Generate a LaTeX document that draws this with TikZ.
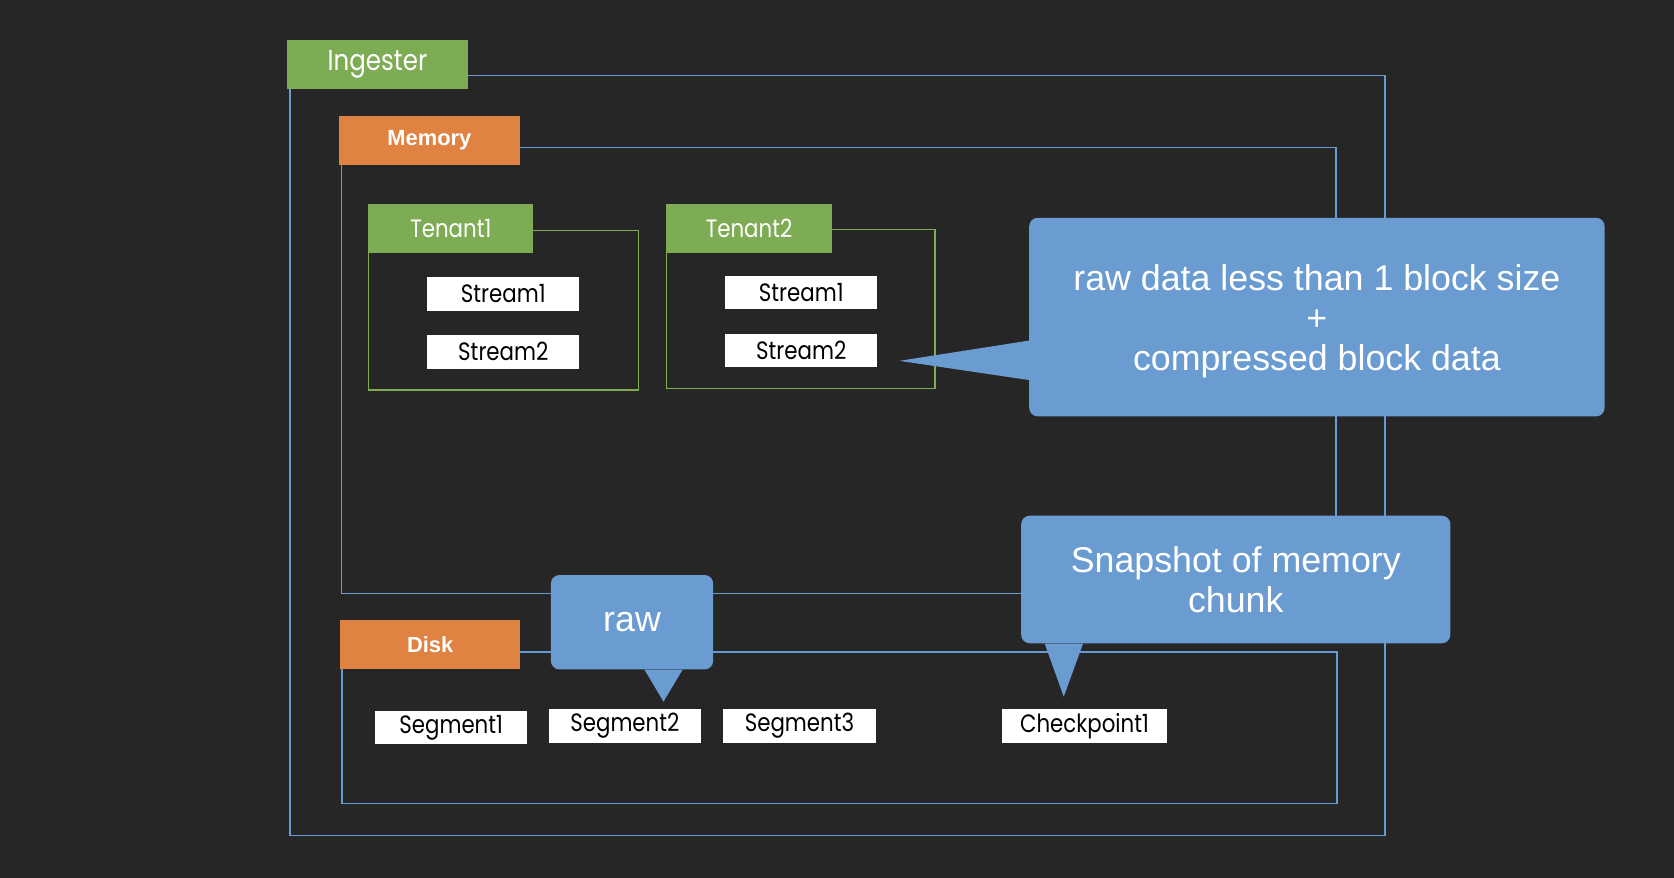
\documentclass[tikz,border=0pt]{standalone}
\usepackage{fontspec}
\setmainfont{Liberation Sans}
\newfontfamily\labelfont[FakeStretch=0.85]{Poppins}
\usepackage{tikz}
\usetikzlibrary{calc}

\begin{document}
\begin{tikzpicture}[x=1pt,y=-1pt,
    tag/.style={fill=custgreen, text=white, inner sep=0, minimum height=45.5pt, font=\labelfont\fontsize{23.5}{23.5}\selectfont},
    boldtag/.style={fill=custorange, text=white, inner sep=0, minimum width=169pt, minimum height=45.5pt, font=\fontsize{20.5}{20.5}\selectfont\bfseries},
    item/.style={fill=white, text=black, inner sep=0, minimum width=142.6pt, minimum height=31.4pt, font=\labelfont\fontsize{23.5}{23.5}\selectfont},
    frame/.style={draw=custblue, line width=1.4pt},
    tenantframe/.style={draw=custgreen, line width=1.4pt},
    note/.style={fill=noteblue, text=white, rounded corners=8pt, inner sep=0, align=center, font=\fontsize{33.5}{37.5}\selectfont}]
    \definecolor{custbg}{RGB}{38, 38, 38}
    \definecolor{custgreen}{RGB}{126, 172, 85}
    \definecolor{custorange}{RGB}{224, 131, 66}
    \definecolor{custblue}{RGB}{104, 155, 212}
    \definecolor{noteblue}{RGB}{106, 155, 209}
    \fill [custbg] (0,0) rectangle (1568,822);
    % containers
    \draw [frame] (271.7,70.9) rectangle (1297.5,782.8);
    \draw [frame] (319.8,138.3) rectangle (1251.2,555.8);
    \draw [frame] (320.3,610.7) rectangle (1252.4,752.8);
    \draw [tenantframe] (345.0,216.1) rectangle (597.9,365.3);
    \draw [tenantframe] (624.5,214.8) rectangle (876.0,364.0);
    % labels
    \node [tag, minimum width=169.4pt, font=\labelfont\fontsize{27}{27}\selectfont] (ingester) at (353.5,60.3) {Ingester};
    \node [boldtag] (memory) at (402.2,131.5) {Memory};
    \node [boldtag] (disk) at (402.9,603.7) {Disk};
    \node [tag, minimum width=154.7pt] (tenantA) at (422.3,213.9) {Tenant1};
    \node [tag, minimum width=154.7pt] (tenantB) at (701.6,213.9) {Tenant2};
    % streams
    \node [item] (streamAA) at (471.4,275.2) {Stream1};
    \node [item] (streamAB) at (471.4,329.5) {Stream2};
    \node [item] (streamBA) at (750.5,274.1) {Stream1};
    \node [item] (streamBB) at (750.5,328.5) {Stream2};
    % disk content
    \node [item] (segA) at (422.6,681.6) {Segment1};
    \node [item] (segB) at (585.3,679.9) {Segment2};
    \node [item] (segC) at (748.8,679.9) {Segment3};
    \node [item, minimum width=154.7pt] (checkA) at (1015.8,679.9) {Checkpoint1};
    % notes
    \node [note, minimum width=539pt, minimum height=186pt, text depth=-1pt] (blockNote) at (1233.5,297.0) {raw data less than 1 block size\\+\\compressed block data};
    \coordinate (blockTip) at (842.5,338.0);
    \fill [noteblue] ([yshift=-22pt]blockNote.west) -- (blockTip) -- ([yshift=-59pt]blockNote.west) -- cycle;
    \node [note, minimum width=402pt, minimum height=119.5pt, text depth=-6pt] (snapNote) at (1157.5,542.8) {Snapshot of memory\\chunk};
    \coordinate (snapTip) at (996.4,652.6);
    \fill [noteblue] ([xshift=-179pt]snapNote.south) -- (snapTip) -- ([xshift=-143pt]snapNote.south) -- cycle;
    \node [note, minimum width=152pt, minimum height=88.4pt, text depth=-4pt] (rawNote) at (592.0,582.8) {raw};
    \coordinate (rawTip) at (621.5,657.2);
    \fill [noteblue] ([xshift=11.6pt]rawNote.south) -- (rawTip) -- ([xshift=47.4pt]rawNote.south) -- cycle;
\end{tikzpicture}
\end{document}
